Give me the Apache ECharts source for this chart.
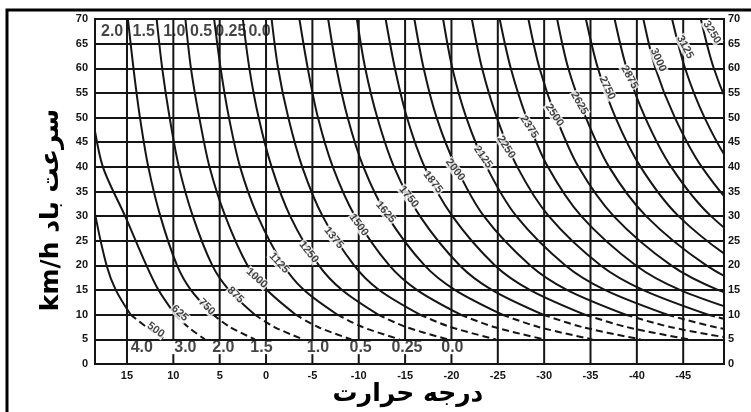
<!DOCTYPE html>
<html>
<head>
<meta charset="utf-8">
<script src="https://cdn.jsdelivr.net/npm/echarts@6/dist/echarts.min.js"></script>
<style>
  html, body { margin: 0; padding: 0; background: #fff; }
  #chart { width: 751px; height: 412px; }
</style>
</head>
<body>
<div id="chart"></div>
<script>
// Temperature ticks (°C) and wind speed levels (km/h) used for the curves
const tempTicks = [15, 10, 5, 0, -5, -10, -15, -20, -25, -30, -35, -40, -45];
const speedSteps = [70, 60, 50, 40, 30, 20, 15, 10, 7.5, 5];

// Wind chill curves: temperature at each speed of speedSteps
const t500  = [21.1, 20.6, 20.0, 19.3, 18.4, 17.2, 16.2, 14.6, 12.9, 10.9];
const t625  = [20.0, 19.4, 18.7, 17.6, 15.2, 12.9, 11.6, 9.8, 8.4, 6.6];
const t750  = [14.9, 14.3, 13.6, 12.7, 11.4, 9.6, 8.1, 5.7, 3.9, 1.2];
const t875  = [11.8, 11.2, 10.4, 9.4, 7.9, 5.8, 4.0, 1.2, -0.9, -4.0];
const t1000 = [8.7, 8.1, 7.2, 6.1, 4.4, 2.0, -0.1, -3.2, -5.6, -9.2];
const t1125 = [5.6, 4.9, 4.0, 2.8, 0.9, -1.9, -4.1, -7.7, -10.4, -14.4];
const t1250 = [2.5, 1.8, 0.8, -0.6, -2.6, -5.7, -8.2, -12.1, -15.1, -19.6];
const t1375 = [-0.6, -1.3, -2.4, -3.9, -6.1, -9.5, -12.2, -16.6, -19.9, -24.8];
const t1500 = [-3.6, -4.5, -5.6, -7.2, -9.6, -13.3, -16.3, -21.0, -24.6, -30.0];
const t1625 = [-6.7, -7.6, -8.8, -10.5, -13.1, -17.1, -20.4, -25.5, -29.4, -35.2];
const t1750 = [-9.8, -10.7, -12.0, -13.8, -16.6, -20.9, -24.4, -29.9, -34.1, -40.4];
const t1875 = [-12.9, -13.9, -15.2, -17.1, -20.1, -24.7, -28.5, -34.4, -38.9, -45.6];
const t2000 = [-16.0, -17.0, -18.4, -20.5, -23.5, -28.5, -32.5, -38.8, -43.6, -50.8];
const t2125 = [-19.1, -20.1, -21.6, -23.8, -27.0, -32.3, -36.6, -43.3, -48.4, -56.0];
const t2250 = [-22.2, -23.3, -24.9, -27.1, -30.5, -36.1, -40.7, -47.7, -53.1, -61.2];
const t2375 = [-25.2, -26.4, -28.1, -30.4, -34.0, -39.9, -44.7, -52.2, -57.9, -66.4];
const t2500 = [-28.3, -29.5, -31.3, -33.7, -37.5, -43.7, -48.8, -56.6, -62.6, -71.6];
const t2625 = [-31.4, -32.6, -34.5, -37.0, -41.0, -47.5, -52.8, -61.1, -67.4, -76.7];
const t2750 = [-34.5, -35.8, -37.7, -40.4, -44.5, -51.3, -56.9, -65.5, -72.1, -81.9];
const t2875 = [-37.6, -38.9, -40.9, -43.7, -48.0, -55.1, -60.9, -70.0, -76.9, -87.1];
const t3000 = [-40.7, -42.0, -44.1, -47.0, -51.5, -59.0, -65.0, -74.4, -81.6, -92.3];
const t3125 = [-43.8, -45.2, -47.3, -50.3, -55.0, -62.8, -69.1, -78.9, -86.4, -97.5];
const t3250 = [-46.9, -48.3, -50.5, -53.6, -58.5, -66.6, -73.1, -83.3, -91.2, -102.7];

const chillValues = [500, 625, 750, 875, 1000, 1125, 1250, 1375, 1500, 1625, 1750, 1875,
                     2000, 2125, 2250, 2375, 2500, 2625, 2750, 2875, 3000, 3125, 3250];
const chillTemps = [t500, t625, t750, t875, t1000, t1125, t1250, t1375, t1500, t1625, t1750, t1875,
                    t2000, t2125, t2250, t2375, t2500, t2625, t2750, t2875, t3000, t3125, t3250];

// Where each curve carries its value, and the slant of the text there
const labelTemp  = [11.9, 9.3, 6.4, 3.3, 1.0, -1.4, -4.6, -7.3, -10.0, -12.9, -15.4, -18.0,
                    -20.4, -23.4, -25.9, -28.4, -31.1, -33.8, -36.8, -39.2, -42.3, -45.2, -48.1];
const labelSpeed = [6.9, 10.3, 11.6, 14.0, 17.4, 20.5, 22.7, 25.6, 28.2, 30.8, 33.9, 36.9,
                    39.4, 42.0, 44.0, 48.1, 50.5, 52.9, 56.0, 58.2, 61.7, 64.3, 67.3];
const labelAngle = [-36, -42, -45, -45, -42, -48, -51, -51, -53, -50, -51, -53,
                    -53, -55, -57, -57, -57, -60, -65, -62, -66, -62, -58];

// Clothing values printed along the top and bottom rows
const cloTopText = ['2.0', '1.5', '1.0', '0.5', '0.25', '0.0'];
const cloTopTemp = [16.6, 13.2, 9.9, 7.0, 3.8, 0.7];
const cloBottomText = ['4.0', '3.0', '2.0', '1.5', '1.0', '0.5', '0.25', '0.0'];
const cloBottomTemp = [13.4, 8.7, 4.6, 0.5, -5.6, -10.2, -15.2, -20.1];

// Temperature lines: some run the full height, others stop at 5 km/h with a short foot
const fullTempLines = [15, -25, -30, -35, -40, -45];
const raisedTempLines = [10, 5, 0, -5, -10, -15, -20];

const INK = '#151515';
const chart = echarts.init(document.getElementById('chart'));

const vSegments = [];
fullTempLines.forEach(t => vSegments.push([t, 0, 70]));
raisedTempLines.forEach(t => { vSegments.push([t, 5, 70]); vSegments.push([t, 0, 2]); });

const series = [{
  type: 'custom',
  data: vSegments,
  renderItem: (params, api) => {
    const a = api.coord([api.value(0), api.value(1)]);
    const b = api.coord([api.value(0), api.value(2)]);
    return { type: 'line', shape: { x1: a[0], y1: a[1], x2: b[0], y2: b[1] },
             style: { stroke: INK, lineWidth: 2 } };
  },
  z: 1
}];

chillValues.forEach((k, i) => {
  const pts = speedSteps.map((v, j) => [chillTemps[i][j], v]);
  series.push({
    type: 'line', data: pts.slice(0, 8), showSymbol: false, smooth: 0.3,
    lineStyle: { color: INK, width: 2 }, z: 2, silent: true
  });
  series.push({
    type: 'line', data: pts.slice(7), showSymbol: false, smooth: 0.3,
    lineStyle: { color: INK, width: 2, type: [7, 4] }, z: 2, silent: true
  });
});

series.push({
  type: 'scatter', symbolSize: 0, z: 5, silent: true,
  data: chillValues.map((k, i) => ({
    name: String(k), value: [labelTemp[i], labelSpeed[i]],
    label: { rotate: labelAngle[i] }
  })),
  label: {
    show: true, position: 'inside', formatter: '{b}',
    fontFamily: 'Liberation Sans', fontWeight: 'bold', fontSize: 11, color: INK,
    backgroundColor: '#fff', padding: [0, 1]
  }
});

series.push({
  type: 'scatter', symbolSize: 0, z: 5, silent: true,
  data: cloTopText.map((s, i) => ({ name: s, value: [cloTopTemp[i], 67.4] }))
    .concat(cloBottomText.map((s, i) => ({ name: s, value: [cloBottomTemp[i], 3.4] }))),
  label: {
    show: true, position: 'inside', formatter: '{b}',
    fontFamily: 'Liberation Sans', fontWeight: 'bold', fontSize: 16, color: INK
  }
});

const tickFont = { fontFamily: 'Liberation Sans', fontWeight: 'bold', fontSize: 11, color: INK };

chart.setOption({
  animation: false,
  backgroundColor: '#fff',
  grid: { left: 95, right: 27, top: 19, bottom: 48, show: true, borderColor: INK, borderWidth: 2 },
  xAxis: {
    type: 'value', inverse: true, min: -49.4, max: 18.45,
    axisLine: { show: false }, axisTick: { show: false }, splitLine: { show: false },
    axisLabel: Object.assign({ customValues: tempTicks, margin: 6 }, tickFont)
  },
  yAxis: [{
    type: 'value', min: 0, max: 70, interval: 5, position: 'left',
    axisLine: { show: false }, axisTick: { show: false },
    splitLine: { show: true, lineStyle: { color: INK, width: 2 } },
    axisLabel: Object.assign({ margin: 7 }, tickFont)
  }, {
    type: 'value', min: 0, max: 70, interval: 5, position: 'right',
    axisLine: { show: false }, axisTick: { show: false }, splitLine: { show: false },
    axisLabel: Object.assign({ margin: 4 }, tickFont)
  }],
  series: series,
  graphic: [
    { type: 'polyline', shape: { points: [[7, 412], [7, 10], [751, 10]] },
      style: { stroke: '#000', lineWidth: 3, fill: null }, silent: true },
    { type: 'text', x: 408, y: 394,
      style: { text: 'درجه حرارت', font: 'bold 25px "DejaVu Sans"', fill: '#000',
               textAlign: 'center', textVerticalAlign: 'middle' } },
    { type: 'text', x: 51, y: 210, rotation: Math.PI / 2,
      style: { text: 'km/h سرعت باد', font: 'bold 25px "DejaVu Sans"', fill: '#000',
               textAlign: 'center', textVerticalAlign: 'middle' } }
  ]
});
</script>
</body>
</html>
